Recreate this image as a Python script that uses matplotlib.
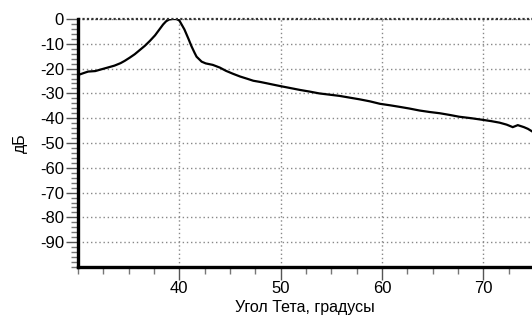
import numpy as np
import matplotlib
matplotlib.use("Agg")
from matplotlib import pyplot as plt
from matplotlib.ticker import MultipleLocator

plt.rcParams['font.family'] = ['Liberation Sans', 'DejaVu Sans']

# Angle theta [deg] and level [dB]
theta = [30.0, 30.7, 31.0, 31.7, 32.3, 33.0, 33.6, 34.2, 34.6, 35.1, 35.6, 36.1,
         36.6, 37.1, 37.6, 38.0, 38.4, 38.7, 39.0, 39.3, 39.7, 40.0, 40.5, 40.9,
         41.2, 41.5, 41.7, 42.0, 42.2, 42.6, 43.3, 44.0, 44.6, 45.3, 46.0, 46.7,
         47.3, 48.0, 48.6, 49.3, 49.9, 50.9, 51.9, 52.9, 53.8, 54.8, 55.8, 56.8,
         57.8, 58.8, 59.8, 60.8, 61.7, 62.7, 63.7, 64.7, 65.7, 66.7, 67.6, 68.8,
         70.0, 70.8, 71.6, 72.3, 72.9, 73.4, 74.0, 74.4, 74.8]
level = [-22.6, -21.6, -21.2, -21.0, -20.3, -19.5, -18.8, -17.8, -16.9, -15.6, -14.2, -12.5,
         -10.8, -8.8, -6.6, -4.4, -2.2, -0.9, -0.2, 0.0, 0.0, -0.6, -4.2, -8.0,
         -11.0, -13.6, -15.2, -16.4, -17.2, -17.9, -18.5, -19.6, -20.9, -22.1, -23.2, -24.1,
         -24.9, -25.4, -25.9, -26.5, -27.0, -27.8, -28.6, -29.3, -30.0, -30.5, -31.0, -31.7,
         -32.4, -33.2, -34.2, -34.8, -35.4, -36.1, -36.9, -37.5, -38.0, -38.7, -39.4, -40.0,
         -40.7, -41.2, -41.8, -42.6, -43.6, -42.8, -43.6, -44.3, -45.3]
x_ticks = [40, 50, 60, 70]
y_ticks = list(range(-90, 1, 10))

fig = plt.figure(figsize=(5.32, 3.24), dpi=100)
ax = fig.add_axes([78 / 532, 1 - 267 / 324, 1 - 78 / 532, (267 - 19) / 324])

ax.plot(theta, level, color='black', linewidth=1.6, solid_joinstyle='miter')

ax.set_xlim(30, 74.8)
ax.set_ylim(-100, 0)

ax.set_xticks(x_ticks)
ax.xaxis.set_minor_locator(MultipleLocator(2.5))
ax.set_yticks(y_ticks)
ax.set_yticklabels([str(v) for v in y_ticks])
ax.yaxis.set_minor_locator(MultipleLocator(2))

ax.grid(True, which='major', color='#888888', linestyle=(0, (1, 2)), linewidth=1.0)
ax.axhline(0, color='#333333', linestyle=(0, (1, 1)), linewidth=1.6, clip_on=False)

for s in ['top', 'right']:
    ax.spines[s].set_visible(False)
for s in ['left', 'bottom']:
    ax.spines[s].set_linewidth(2.4)
    ax.spines[s].set_color('black')

ax.tick_params(which='major', direction='out', length=9, width=1, color='#555555',
               labelsize=12, pad=1)
ax.tick_params(which='minor', direction='out', length=5, width=1, color='#777777')
ax.tick_params(axis='x', which='major', pad=1)

ax.set_xlabel('Угол Тета, градусы', fontsize=11.5, labelpad=3)
ax.set_ylabel('дБ', fontsize=11.5, labelpad=9)

fig.savefig('out.png', dpi=100)
